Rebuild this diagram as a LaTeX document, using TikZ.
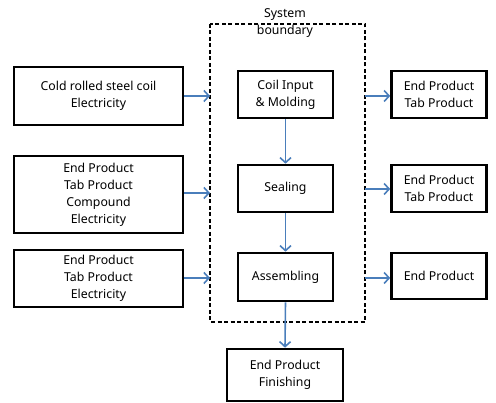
\documentclass[tikz,border=0pt]{standalone}
\usepackage{fontspec}
\setmainfont{Noto Sans}
\usetikzlibrary{arrows.meta}
\definecolor{arrowblue}{HTML}{4A7EBB}
\tikzset{
  box/.style={draw=black, line width=2.6pt, fill=white, align=center, inner sep=0pt, font=\fontsize{12.3}{17}\selectfont},
  flow/.style={draw=arrowblue, line width=1.6pt, -{Straight Barb[length=5pt,width=11pt,line width=1.6pt]}},
  lbl/.style={align=center, font=\fontsize{12.3}{17}\selectfont}
}
\begin{document}
\begin{tikzpicture}[x=1pt,y=-1pt]
\useasboundingbox (0,0) rectangle (496,403);
% boundary
\draw[line width=1.4pt, dash pattern=on 4pt off 2.5pt] (210,24) rectangle (365,322);
\node[lbl] (sb) at (285,23.5) {System\\boundary};
% left inputs
\node[box, minimum width=169pt, minimum height=58pt] (in1) at (98.5,96) {Cold rolled steel coil\\Electricity};
\node[box, minimum width=169pt, minimum height=77pt] (in2) at (98.5,194.5) {End Product\\Tab Product\\Compound\\Electricity};
\node[box, minimum width=169pt, minimum height=57pt] (in3) at (98.5,278.5) {End Product\\Tab Product\\Electricity};
% process
\node[box, minimum width=95pt, minimum height=47pt] (p1) at (285.5,94.5) {Coil Input\\\& Molding};
\node[box, minimum width=95pt, minimum height=47pt] (p2) at (285.5,188.5) {Sealing};
\node[box, minimum width=95pt, minimum height=48pt] (p3) at (285.5,277) {Assembling};
% outputs
\node[box, minimum width=95pt, minimum height=47pt] (o1) at (439,94.5) {End Product\\Tab Product};
\node[box, minimum width=95pt, minimum height=47pt] (o2) at (439,188.5) {End Product\\Tab Product};
\node[box, minimum width=95pt, minimum height=46pt] (o3) at (439,276) {End Product};
\node[box, minimum width=116pt, minimum height=52pt] (fin) at (285,375) {End Product\\Finishing};
% coordinates on boundary
\coordinate (bl1) at (210,96);
\coordinate (bl2) at (210,193);
\coordinate (bl3) at (210,278);
\coordinate (br1) at (365,96);
\coordinate (br2) at (365,189);
\coordinate (br3) at (365,278);
% arrows
\draw[flow] (in1.east |- bl1) -- (bl1);
\draw[flow] (in2.east |- bl2) -- (bl2);
\draw[flow] (in3.east |- bl3) -- (bl3);
\draw[flow] (br1) -- (o1.west |- br1);
\draw[flow] (br2) -- (o2.west |- br2);
\draw[flow] (br3) -- (o3.west |- br3);
\draw[flow] (p1.south) -- (p2.north);
\draw[flow] (p2.south) -- (p3.north);
\draw[flow] (p3.south) -- (fin.north);
\end{tikzpicture}
\end{document}
